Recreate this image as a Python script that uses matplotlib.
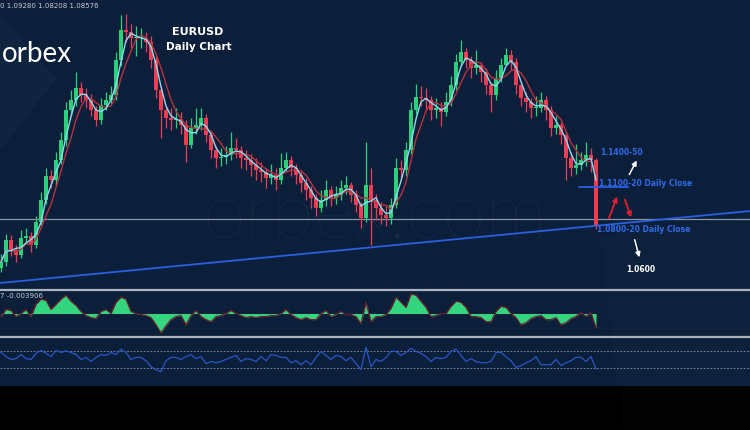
import matplotlib
matplotlib.use("Agg")
import matplotlib.pyplot as plt
import numpy as np
import pandas as pd
from matplotlib.patches import Polygon

# ---- data (one candle per 5 px) ----
closes = [1.036, 1.058, 1.048, 1.043, 1.060, 1.062, 1.053, 1.076, 1.098, 1.122,
          1.118, 1.138, 1.158, 1.188, 1.198, 1.210, 1.203, 1.198, 1.188, 1.178,
          1.193, 1.198, 1.203, 1.238, 1.268, 1.266, 1.260, 1.260, 1.260, 1.256,
          1.238, 1.208, 1.188, 1.180, 1.178, 1.179, 1.173, 1.153, 1.170, 1.173,
          1.180, 1.163, 1.148, 1.140, 1.141, 1.143, 1.150, 1.148, 1.140, 1.138,
          1.133, 1.128, 1.126, 1.120, 1.123, 1.118, 1.130, 1.138, 1.130, 1.123,
          1.115, 1.108, 1.100, 1.090, 1.098, 1.108, 1.100, 1.103, 1.110, 1.113,
          1.103, 1.093, 1.080, 1.113, 1.098, 1.090, 1.083, 1.080, 1.093, 1.130,
          1.128, 1.148, 1.188, 1.201, 1.200, 1.198, 1.188, 1.190, 1.186, 1.196,
          1.213, 1.236, 1.246, 1.238, 1.230, 1.233, 1.226, 1.213, 1.203, 1.220,
          1.233, 1.243, 1.236, 1.213, 1.200, 1.196, 1.190, 1.190, 1.198, 1.188,
          1.170, 1.173, 1.163, 1.140, 1.130, 1.133, 1.138, 1.143, 1.138, 1.073]
opens = [1.030] + closes[:-1]
highs = [1.044, 1.064, 1.063, 1.053, 1.068, 1.070, 1.066, 1.082, 1.106, 1.130,
         1.128, 1.146, 1.166, 1.196, 1.208, 1.226, 1.216, 1.210, 1.204, 1.192,
         1.200, 1.206, 1.212, 1.246, 1.283, 1.284, 1.274, 1.272, 1.270, 1.266,
         1.262, 1.242, 1.212, 1.192, 1.190, 1.190, 1.186, 1.178, 1.180, 1.190,
         1.190, 1.184, 1.166, 1.152, 1.150, 1.152, 1.166, 1.160, 1.152, 1.148,
         1.144, 1.140, 1.136, 1.130, 1.134, 1.130, 1.145, 1.146, 1.142, 1.134,
         1.128, 1.120, 1.112, 1.104, 1.108, 1.118, 1.112, 1.112, 1.118, 1.122,
         1.116, 1.108, 1.096, 1.156, 1.130, 1.104, 1.096, 1.092, 1.100, 1.140,
         1.138, 1.156, 1.196, 1.214, 1.212, 1.210, 1.202, 1.200, 1.196, 1.206,
         1.222, 1.244, 1.258, 1.250, 1.242, 1.248, 1.236, 1.230, 1.216, 1.228,
         1.240, 1.250, 1.248, 1.240, 1.216, 1.206, 1.200, 1.202, 1.206, 1.202,
         1.192, 1.182, 1.176, 1.166, 1.146, 1.154, 1.146, 1.156, 1.150, 1.140]
lows = [1.026, 1.032, 1.042, 1.036, 1.040, 1.054, 1.046, 1.050, 1.072, 1.094,
        1.110, 1.112, 1.134, 1.152, 1.182, 1.192, 1.196, 1.190, 1.182, 1.172,
        1.174, 1.188, 1.194, 1.198, 1.232, 1.256, 1.250, 1.242, 1.250, 1.246,
        1.230, 1.200, 1.160, 1.170, 1.168, 1.170, 1.164, 1.136, 1.150, 1.164,
        1.168, 1.156, 1.140, 1.130, 1.132, 1.134, 1.138, 1.140, 1.130, 1.128,
        1.122, 1.118, 1.116, 1.110, 1.114, 1.108, 1.114, 1.126, 1.122, 1.114,
        1.106, 1.098, 1.090, 1.082, 1.086, 1.092, 1.092, 1.094, 1.098, 1.104,
        1.096, 1.086, 1.070, 1.076, 1.053, 1.078, 1.074, 1.072, 1.074, 1.090,
        1.118, 1.122, 1.144, 1.184, 1.192, 1.188, 1.178, 1.180, 1.172, 1.182,
        1.192, 1.208, 1.232, 1.230, 1.220, 1.224, 1.216, 1.204, 1.186, 1.198,
        1.216, 1.236, 1.228, 1.204, 1.192, 1.186, 1.180, 1.182, 1.186, 1.178,
        1.162, 1.164, 1.154, 1.118, 1.122, 1.124, 1.128, 1.132, 1.126, 1.069]

macd = [-3, 4, 3, -3, 0, 4, -3, 9, 14, 13, 4, 9, 14, 18, 12, 8, 2, -2, -4, -5,
        2, 4, 0, 11, 16, 14, 2, 0, -1, -2, -4, -11, -19, -12, -6, -3, -2, -11, -2, 3,
        -3, -6, -8, -3, -2, 0, 3, 0, -2, -4, -3, -4, -3, -3, -2, -2, 0, 4, -1, -4,
        -6, -4, -6, -6, 0, 3, -3, -1, 2, -1, -1, -3, -10, 11, -8, -3, -3, -1, 5, 16,
        11, 6, 19, 18, 12, 6, -3, -2, 0, 0, 7, 12, 11, 6, -3, -3, -4, -8, -8, 2,
        7, 6, 0, -4, -11, -9, -5, -3, -2, -6, -6, -4, -11, -9, -5, -3, 1, -3, 1, -14]

rsi = [67, 57, 50, 52, 62, 52, 50, 65, 72, 65, 57, 72, 67, 71, 67, 62, 50, 55, 45, 55,
       62, 60, 67, 62, 75, 67, 50, 55, 55, 47, 32, 25, 20, 47, 55, 55, 50, 57, 62, 52,
       57, 40, 45, 42, 45, 50, 55, 60, 45, 52, 50, 45, 57, 47, 62, 60, 55, 55, 42, 47,
       37, 47, 37, 55, 70, 60, 50, 60, 57, 47, 55, 40, 25, 80, 32, 50, 45, 55, 70, 70,
       60, 67, 77, 70, 65, 57, 45, 55, 52, 55, 70, 75, 60, 45, 52, 45, 42, 42, 45, 67,
       67, 57, 47, 30, 35, 42, 47, 57, 37, 37, 37, 50, 35, 42, 47, 55, 55, 45, 57, 27]

# annotation levels
level_hi = 1.111
level_lo = 1.079
trend_pts = [(-0.2, 1.015), (149.8, 1.087)]

BG = '#0b1f3b'
UP = '#2bd17a'
DN = '#ec3d52'
LBL = '#2f6ae6'

idx = np.arange(len(closes))
o = np.array(opens)
c = np.array(closes)

fig = plt.figure(figsize=(7.5, 4.3), dpi=100)
fig.patch.set_facecolor('black')

ax = fig.add_axes([0, 140 / 430, 1, 290 / 430])
ax2 = fig.add_axes([0, 94 / 430, 1, 46 / 430])
ax3 = fig.add_axes([0, 44 / 430, 1, 49 / 430])
for a in (ax, ax2, ax3):
    a.set_facecolor(BG)
    a.set_xlim(-0.2, 149.8)
    a.set_xticks([])
    a.set_yticks([])
    for s in a.spines.values():
        s.set_visible(False)
for a in (ax2, ax3):
    a.spines['top'].set_visible(True)
    a.spines['top'].set_color('#aab2be')
    a.spines['top'].set_linewidth(1.6)

ax.set_ylim(1.008, 1.298)

# decorative faint shapes
ax.add_patch(Polygon([[0, 0.95], [0.075, 0.73], [0, 0.48]], closed=True,
                     transform=ax.transAxes, color='white', alpha=0.022, lw=0))
fig.patches.append(Polygon([[0.83, 0.0], [0.80, 0.45], [1.0, 0.5], [1.0, 0.0]], closed=True,
                           transform=fig.transFigure, color='white', alpha=0.012, lw=0))

# watermark
ax.text(0.5, 0.255, 'orbex.com', transform=ax.transAxes, ha='center', va='center',
        fontsize=56, family='Lato', fontweight='light', color='white', alpha=0.05)

# candles
colors = [UP if cc >= oo else DN for oo, cc in zip(o, c)]
ax.vlines(idx, lows, highs, colors=colors, lw=0.9, zorder=3)
ax.bar(idx, np.maximum(np.abs(c - o), 0.001), bottom=np.minimum(o, c), width=0.7,
       color=colors, lw=0, zorder=3)

# moving averages
ma_fast = pd.Series(closes).rolling(3, min_periods=1).mean()
ma_slow = pd.Series(closes).rolling(5, min_periods=1).mean()
ax.plot(idx, ma_slow, color='#b8323f', lw=1.0, zorder=4)
ax.plot(idx, ma_fast, color='#8fd9ec', lw=1.0, zorder=5)

# levels & trendline
ax.axhline(level_lo, color='#8c95a4', lw=0.9, zorder=2)
ax.plot([p[0] for p in trend_pts], [p[1] for p in trend_pts], color='#2a5fe0', lw=1.3, zorder=6)
ax.plot([115.6, 125.4], [level_hi, level_hi], color='#2a5fe0', lw=1.3, zorder=6)

# labels
kw = dict(fontsize=5.5, fontweight='bold', color=LBL, family='DejaVu Sans', va='center', zorder=7)
ax.text(119.8, 1.146, '1.1400-50', **kw)
ax.text(119.6, 1.115, '1.1100-20 Daily Close', **kw)
ax.text(119.2, 1.068, '1.0800-20 Daily Close', **kw)
ax.text(125.0, 1.028, '1.0600', fontsize=5.5, fontweight='bold', color='white', va='center')

arr_w = dict(arrowstyle='-|>', color='white', lw=1.1, mutation_scale=7)
arr_r = dict(arrowstyle='-|>', color='#e0202e', lw=1.3, mutation_scale=7)
ax.annotate('', xy=(127.4, 1.140), xytext=(125.4, 1.121), arrowprops=arr_w, zorder=8)
ax.annotate('', xy=(127.8, 1.038), xytext=(126.6, 1.061), arrowprops=arr_w, zorder=8)
ax.annotate('', xy=(123.4, 1.104), xytext=(121.4, 1.077), arrowprops=arr_r, zorder=8)
ax.annotate('', xy=(126.2, 1.078), xytext=(124.6, 1.101), arrowprops=arr_r, zorder=8)

# titles & logo
ax.text(0.264, 0.89, 'EURUSD', transform=ax.transAxes, ha='center', va='center',
        fontsize=8, fontweight='bold', color='white')
ax.text(0.265, 0.838, 'Daily Chart', transform=ax.transAxes, ha='center', va='center',
        fontsize=7.5, fontweight='bold', color='white')
ax.text(0.002, 0.815, 'orbex', transform=ax.transAxes, ha='left', va='center',
        fontsize=20, family='Lato', color='white')
ax.text(0.0, 0.99, '0 1.09280 1.08208 1.08576', transform=ax.transAxes, ha='left', va='top',
        fontsize=5, color='#c8ccd4')

# MACD panel
ax2.set_ylim(-22, 23)
ax2.fill_between(idx, 0, macd, color='#33d67e', lw=0)
ax2.plot(idx, macd, color='#6e1d2c', lw=0.9)
ax2.text(0.0, 0.93, '7 -0.003906', transform=ax2.transAxes, ha='left', va='top',
         fontsize=5, color='#c8ccd4')

# RSI panel
ax3.set_ylim(-15, 105)
ax3.axhline(70, color='#8c95a4', lw=0.6, ls=(0, (2, 2)))
ax3.axhline(30, color='#8c95a4', lw=0.6, ls=(0, (2, 2)))
ax3.plot(idx, rsi, color='#2a56c6', lw=0.9)

fig.savefig('out.png', dpi=100, facecolor=fig.get_facecolor())
